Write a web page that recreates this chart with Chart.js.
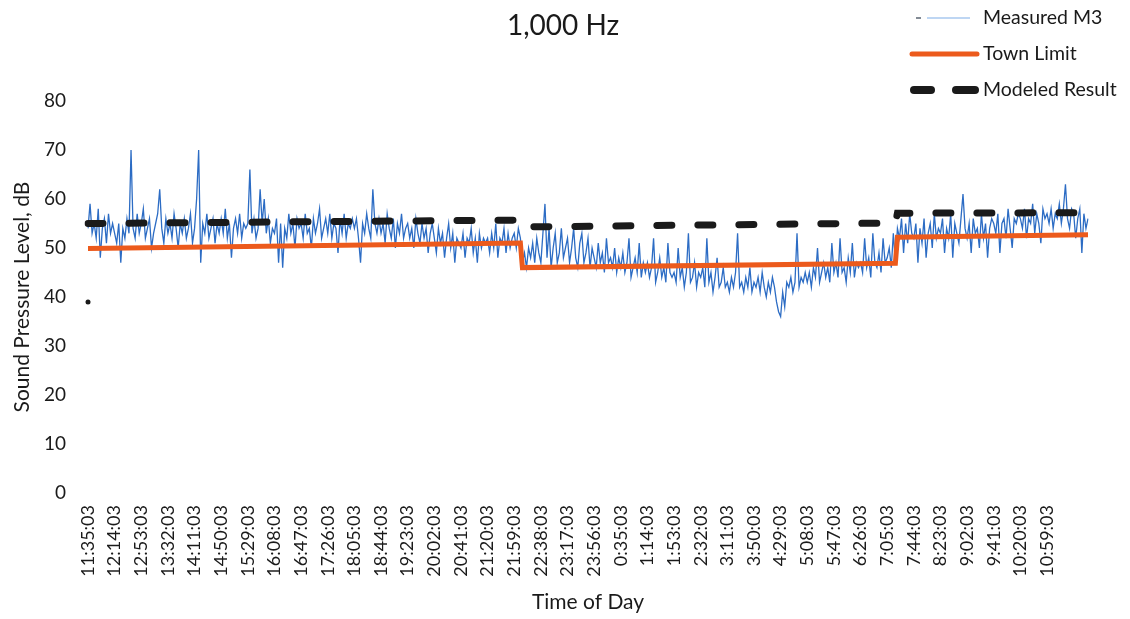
<!DOCTYPE html>
<html>
<head>
<meta charset="utf-8">
<script src="https://cdn.jsdelivr.net/npm/chart.js@4.4.1/dist/chart.umd.min.js"></script>
<style>
  html, body { margin: 0; padding: 0; background: #ffffff; }
  #wrap { width: 1130px; height: 619px; position: relative; }
</style>
</head>
<body>
<div id="wrap"><canvas id="c" width="1130" height="619"></canvas></div>
<script>
// ---- Data (3-minute resolution) ----
const startTime = [11, 35, 3];       // first sample time
const stepMinutes = 3;               // spacing between samples
const labelEvery = 13;               // a tick label every 39 minutes
const lastLabelIndex = 468;          // 10:59:03

const measuredM3 = [
  54,59,53,55,52,58,48,54,56,51,57,53,55,
  53,51,55,47,54,52,56,53,70,54,52,57,53,
  55,58,52,54,56,50,53,55,57,62,54,51,56,
  53,55,52,57,54,50,55,53,56,52,54,57,51,
  54,60,70,47,55,53,57,52,54,56,51,55,53,
  56,53,58,52,55,48,54,56,53,57,52,55,54,
  55,66,53,56,52,54,62,55,60,53,56,51,54,
  53,56,47,55,46,54,52,57,53,55,50,56,54,
  55,52,57,53,54,50,56,53,55,58,52,54,56,
  53,57,52,55,54,49,56,53,57,52,55,54,56,
  54,56,52,47,55,53,57,54,52,62,55,53,56,
  53,55,51,57,54,52,56,50,55,53,57,52,54,
  55,52,54,50,56,53,51,55,52,54,49,53,55,
  52,49,54,51,53,48,52,55,50,53,47,52,51,
  50,53,48,52,51,54,49,52,47,53,50,52,51,
  52,49,53,50,55,48,52,51,54,49,53,50,52,
  53,50,54,52,47,49,46,50,48,51,47,52,49,
  47,53,59,48,54,46,50,53,47,49,54,48,50,
  52,47,50,54,48,46,51,53,47,49,52,46,50,
  48,46,51,47,49,45,52,47,48,46,50,45,48,
  46,49,45,47,52,44,46,48,45,51,44,47,45,
  47,44,46,52,43,45,48,44,46,43,51,45,44,
  45,43,50,44,46,42,45,53,43,44,47,42,45,
  44,46,42,52,43,45,41,44,48,42,43,46,42,
  43,41,44,42,45,53,42,43,41,44,42,46,41,
  43,42,44,41,45,42,40,43,41,44,42,39,37,
  36,41,38,43,42,44,41,43,53,42,44,43,45,
  43,45,42,46,44,50,43,45,47,44,46,43,51,
  45,47,44,52,45,46,43,48,45,51,44,47,46,
  47,45,52,46,48,44,53,47,46,49,45,52,47,
  48,50,46,53,47,54,52,56,49,55,51,57,53,
  52,55,47,54,51,56,48,53,55,50,57,52,54,
  53,56,49,54,52,57,48,55,53,51,56,61,54,
  52,55,49,56,53,54,50,57,52,55,48,54,56,
  55,53,57,49,55,56,52,58,54,50,56,55,57,
  56,54,58,52,56,55,59,53,57,55,51,58,56,
  57,55,58,54,57,56,59,55,58,63,56,54,58,
  57,52,56,58,49,57,54,56
];

// Town Limit and Modeled Result: break points (index -> dB); straight between them
const townLimitIdx  = [0,    211, 212, 394,  395,  488];
const townLimitVal  = [49.9, 51,  46,  46.9, 52.2, 52.7];
const modeledIdx    = [0,    211,  212,  394,  395,  488];
const modeledVal    = [55,   55.7, 54.3, 55.1, 57.1, 57.2];
const modeledStrayIdx = [0];
const modeledStrayVal = [39];

const yTicks = [0, 10, 20, 30, 40, 50, 60, 70, 80];

// ---- Build arrays the library needs ----
const N = measuredM3.length;
const categories = [];
for (let i = 0; i < N; i++) {
  let t = startTime[0] * 60 + startTime[1] + i * stepMinutes;
  t = t % (24 * 60);
  const h = Math.floor(t / 60), m = t % 60;
  categories.push(h + ':' + String(m).padStart(2, '0') + ':' + String(startTime[2]).padStart(2, '0'));
}
function sparse(idx, val) {
  const a = new Array(N).fill(null);
  idx.forEach((k, j) => { a[k] = val[j]; });
  return a;
}
const townLimit = sparse(townLimitIdx, townLimitVal);
const modeled = sparse(modeledIdx, modeledVal);
const modeledStray = sparse(modeledStrayIdx, modeledStrayVal);

const FONT = 'Lato, "Open Sans", sans-serif';
const TEXT = '#1a1a1a';

const legendItems = [
  { text: 'Measured M3', y: 18, kind: 'measured' },
  { text: 'Town Limit', y: 54, kind: 'town' },
  { text: 'Modeled Result', y: 90, kind: 'modeled' }
];

const overlayPlugin = {
  id: 'overlay',
  afterDraw(chart) {
    const ctx = chart.ctx;
    ctx.save();
    // Title
    ctx.fillStyle = TEXT;
    ctx.font = '28px ' + FONT;
    ctx.textAlign = 'center';
    ctx.textBaseline = 'middle';
    ctx.fillText('1,000 Hz', 563, 26);
    // Legend
    ctx.font = '19.5px ' + FONT;
    ctx.textAlign = 'left';
    legendItems.forEach(it => {
      ctx.save();
      if (it.kind === 'measured') {
        ctx.strokeStyle = '#5a6472'; ctx.lineWidth = 1.5;
        ctx.beginPath(); ctx.moveTo(916, it.y); ctx.lineTo(921, it.y); ctx.stroke();
        ctx.strokeStyle = '#a9c9ef'; ctx.lineWidth = 1.5;
        ctx.beginPath(); ctx.moveTo(927, it.y); ctx.lineTo(970, it.y); ctx.stroke();
      } else if (it.kind === 'town') {
        ctx.strokeStyle = '#ec5a1c'; ctx.lineWidth = 5; ctx.lineCap = 'round';
        ctx.beginPath(); ctx.moveTo(912, it.y); ctx.lineTo(977, it.y); ctx.stroke();
      } else {
        ctx.strokeStyle = '#1a1a1a'; ctx.lineWidth = 8; ctx.lineCap = 'round';
        ctx.beginPath(); ctx.moveTo(914, it.y); ctx.lineTo(931, it.y); ctx.stroke();
        ctx.beginPath(); ctx.moveTo(956, it.y); ctx.lineTo(975, it.y); ctx.stroke();
      }
      ctx.restore();
      ctx.fillStyle = TEXT;
      ctx.fillText(it.text, 983, it.y);
    });
    ctx.restore();
  }
};

new Chart(document.getElementById('c'), {
  type: 'line',
  data: {
    labels: categories,
    datasets: [
      {
        label: 'Measured M3',
        data: measuredM3,
        borderColor: '#2c6cc4',
        borderWidth: 1.3,
        pointRadius: 0,
        tension: 0,
        order: 4
      },
      {
        label: 'Town Limit',
        data: townLimit,
        borderColor: '#ec5a1c',
        borderWidth: 5,
        pointRadius: 0,
        spanGaps: true,
        order: 3
      },
      {
        label: 'Modeled Result',
        data: modeled,
        borderColor: '#1a1a1a',
        borderWidth: 7,
        borderDash: [15, 26],
        borderCapStyle: 'round',
        pointRadius: 0,
        spanGaps: true,
        order: 2
      },
      {
        label: 'Modeled Result (start)',
        data: modeledStray,
        borderColor: '#1a1a1a',
        backgroundColor: '#1a1a1a',
        showLine: false,
        pointRadius: 2.5,
        pointBorderWidth: 0,
        order: 1
      }
    ]
  },
  options: {
    responsive: false,
    animation: false,
    events: [],
    layout: { padding: { top: 101, right: 42, left: 0, bottom: 0 } },
    plugins: {
      legend: { display: false },
      title: { display: false },
      tooltip: { enabled: false }
    },
    scales: {
      x: {
        type: 'category',
        offset: false,
        grid: { display: false, drawTicks: false },
        border: { display: false },
        ticks: {
          autoSkip: false,
          maxRotation: 90,
          minRotation: 90,
          padding: 12,
          color: TEXT,
          font: { family: FONT, size: 18 },
          callback: function (value, index) {
            return (index % labelEvery === 0 && index <= lastLabelIndex) ? categories[index] : '';
          }
        },
        title: {
          display: true,
          text: 'Time of Day',
          color: TEXT,
          font: { family: FONT, size: 21 },
          padding: { top: 0, bottom: 4 }
        },
        afterFit(scale) { scale.height = 126; }
      },
      y: {
        min: 0,
        max: 80,
        grid: { display: false, drawTicks: false },
        border: { display: false },
        afterBuildTicks(scale) { scale.ticks = yTicks.map(v => ({ value: v })); },
        ticks: {
          padding: 22,
          color: TEXT,
          font: { family: FONT, size: 19 }
        },
        title: {
          display: true,
          text: 'Sound Pressure Level, dB',
          color: TEXT,
          font: { family: FONT, size: 21 },
          padding: { top: 10, bottom: 0 }
        },
        afterFit(scale) { scale.width = 88; }
      }
    }
  },
  plugins: [overlayPlugin]
});
</script>
</body>
</html>
